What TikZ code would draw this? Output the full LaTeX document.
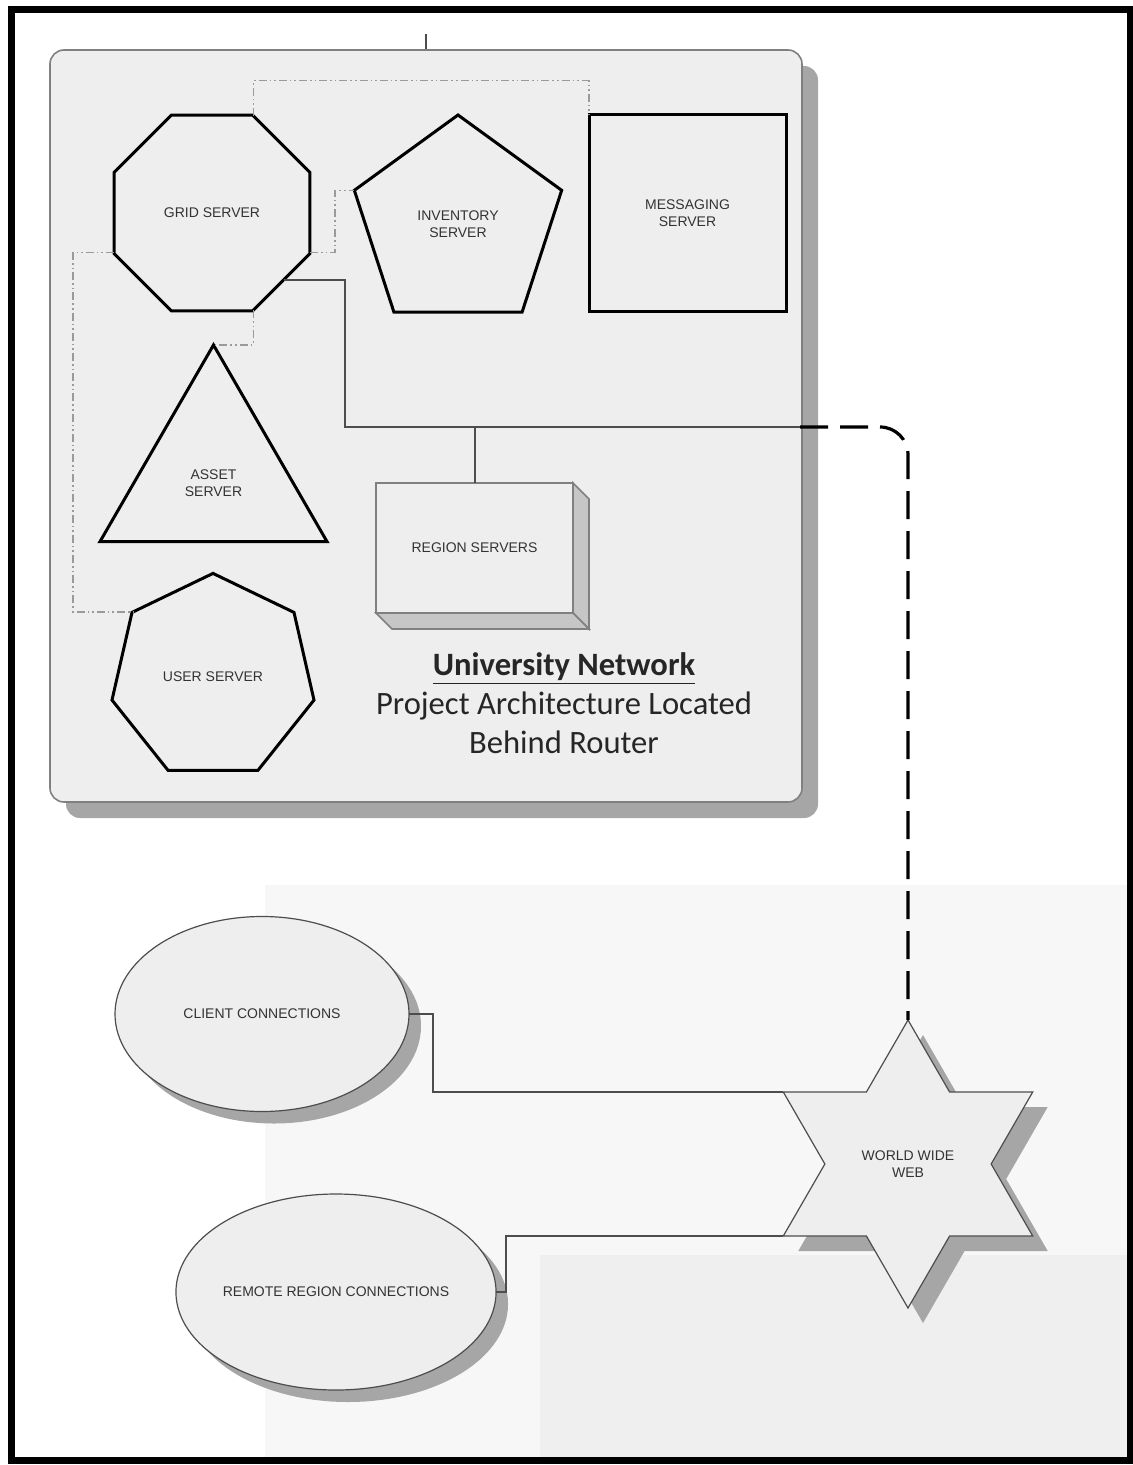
\documentclass[tikz,border=0pt]{standalone}
\usepackage{fontspec}
\usetikzlibrary{shapes.geometric,shadows,calc}
\newfontfamily\labelfont{Liberation Sans}
\newfontfamily\capfont{Carlito}
\definecolor{panel}{HTML}{EEEEEE}
\definecolor{rim}{HTML}{808080}
\definecolor{shade}{HTML}{A6A6A6}
\definecolor{wireink}{HTML}{4D4D4D}
\definecolor{traceink}{HTML}{9A9A9A}
\definecolor{side}{HTML}{C6C6C6}
\definecolor{labelink}{HTML}{333333}
\definecolor{faint}{HTML}{F7F7F7}
\definecolor{faintdark}{HTML}{EFEFEF}
\tikzset{
  basenode/.style={inner sep=0pt,outer sep=0pt,align=center,text=labelink,font=\labelfont\fontsize{7}{8.5}\selectfont},
  serverbox/.style={basenode,draw=black,line width=1.5pt},
  polyserver/.style={serverbox,regular polygon,regular polygon sides=#1},
  cloudnode/.style={basenode,draw=wireink,line width=0.6pt,fill=panel},
  dropshade/.style={drop shadow={shadow xshift=#1,shadow yshift=-#1,fill=shade,opacity=1}},
  link/.style={draw=wireink,line width=1pt},
  trace/.style={draw=traceink,line width=0.7pt,dash pattern=on 4pt off 1.5pt on 0.8pt off 1.5pt on 0.8pt off 1.5pt},
  webline/.style={draw=black,line width=1.6pt,dash pattern=on 14pt off 6pt,rounded corners=14pt}
}
\begin{document}
\begin{tikzpicture}[x=0.5pt,y=-0.5pt]
  \useasboundingbox (0,0) rectangle (1133,1465);
  % faint backdrop
  \fill[faint] (265,885) rectangle (1127,1457);
  \fill[faintdark] (540,1255) rectangle (1127,1457);
  \draw[line width=3.5pt] (11,10) rectangle (1130,1460);

  % university network panel
  \node[draw=rim,line width=0.8pt,fill=panel,rounded corners=7pt,minimum width=376pt,minimum height=376pt,dropshade=8pt] (panel) at (426,426) {};
  \coordinate (feed) at (426,34);

  \node[polyserver=8,minimum size=212pt*0.5] (grid) at (212,213) {GRID SERVER};
  \node[polyserver=5,minimum size=109pt] (inv) at (458,224) {INVENTORY\\SERVER};
  \node[serverbox,rectangle,minimum width=98.5pt,minimum height=98.5pt] (msg) at (687.5,213.5) {MESSAGING\\SERVER};
  \node[polyserver=3,minimum size=131pt] (asset) at (213.5,476) {\\[4pt]ASSET\\SERVER};
  \node[polyserver=7,minimum size=103.6pt] (user) at (213,677) {USER SERVER};

  % region servers box
  \node[basenode,draw=rim,line width=0.8pt,fill=panel,minimum width=98.5pt,minimum height=65pt] (region) at (474.5,548) {REGION SERVERS};
  \filldraw[fill=side,draw=rim,line width=0.8pt] (region.north east) -- ++(16,16) -- ++(0,130) -- (region.south east) -- cycle;
  \filldraw[fill=side,draw=rim,line width=0.8pt] (region.south west) -- ++(16,16) -- ++(197,0) -- (region.south east) -- cycle;

  \node[font=\capfont\fontsize{16.3}{19.5}\selectfont,text=black!85,align=center] (caption) at (564,703)
    {\underline{\textbf{University Network}}\\Project Architecture Located\\Behind Router};

  % outside connections
  \node[cloudnode,ellipse,minimum width=147pt,minimum height=97.5pt,dropshade=6pt] (client) at (262,1014) {CLIENT CONNECTIONS};
  \node[cloudnode,ellipse,minimum width=155pt,minimum height=98pt,dropshade=6pt] (remote) at (336,1292) {REMOTE REGION CONNECTIONS};
  \node[cloudnode,star,star points=6,star point ratio=1.732,minimum size=144pt,dropshade=7.5pt] (www) at (908,1164) {WORLD WIDE\\WEB};

  % links
  \coordinate (jog) at (345,427);
  \coordinate (tap) at (474.5,427);
  \coordinate (hub) at (800,427);
  \draw[link] (feed) -- (panel.north);
  \draw[link] (grid.-43) -| (jog) -- (hub);
  \draw[link] (tap) -- (region.north);
  \draw[webline] (hub) -| (www.north);
  \draw[link] (client.east) -- ++(24,0) |- (www.150);
  \draw[link] (remote.east) -- ++(10,0) |- (www.210);

  % dash-dot traces
  \draw[trace] (grid.67.5) -- ++(0,-35) -| (msg.north west);
  \draw[trace] (grid.-22.5) -- ++(25,0) |- (inv.162);
  \draw[trace] (grid.202.5) -- ++(-41,0) |- (user.141.43);
  \draw[trace] (grid.-67.5) |- (asset.north);
\end{tikzpicture}
\end{document}
